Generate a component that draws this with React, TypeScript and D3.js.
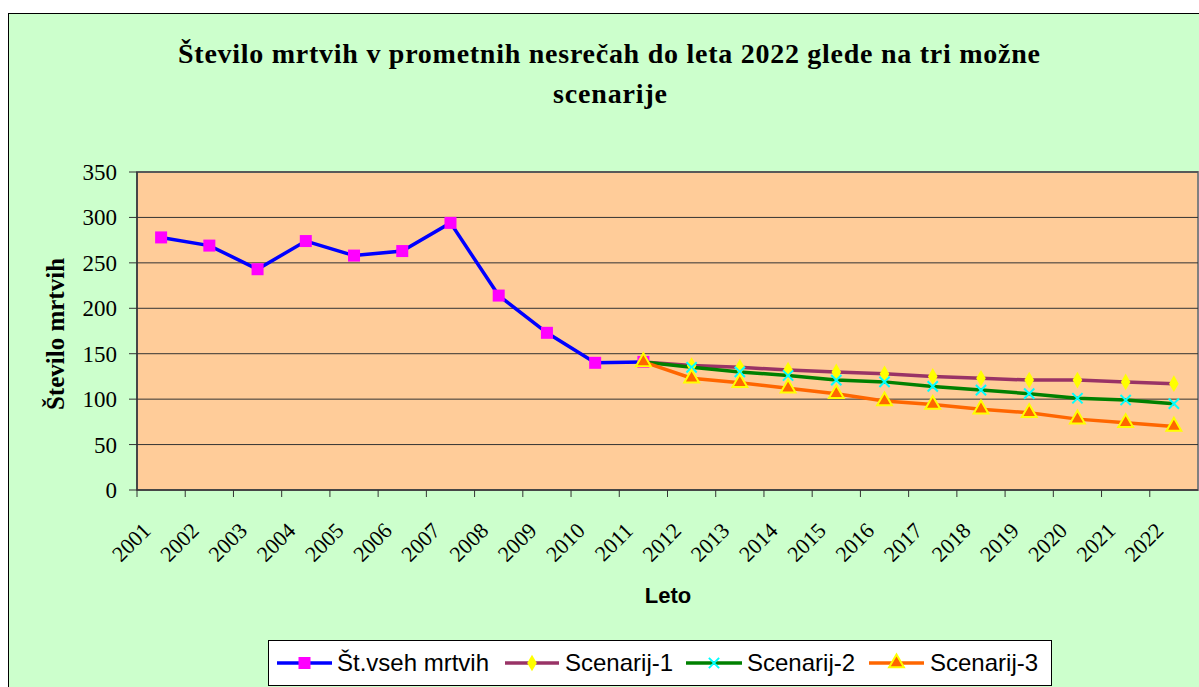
import React from "react";
import * as d3 from "d3";

// years on the category axis
const years = [
  "2001", "2002", "2003", "2004", "2005", "2006", "2007", "2008", "2009", "2010", "2011",
  "2012", "2013", "2014", "2015", "2016", "2017", "2018", "2019", "2020", "2021", "2022",
];

// recorded deaths 2001-2011
const totalYears = years.slice(0, 11);
const totalValues = [278, 269, 243, 274, 258, 263, 294, 214, 173, 140, 141];

// three projections 2011-2022
const scenarioYears = years.slice(10);
const scenario1 = [141, 137, 135, 132, 130, 128, 125, 123, 121, 121, 119, 117];
const scenario2 = [141, 135, 130, 126, 121, 119, 114, 110, 106, 101, 99, 95];
const scenario3 = [141, 123, 118, 112, 106, 98, 94, 89, 85, 78, 74, 70];

const yTicks = [0, 50, 100, 150, 200, 250, 300, 350];

const W = 1199;
const H = 687;
const plot = { left: 137, right: 1198, top: 172, bottom: 490 };

const serif = "'Liberation Serif', 'Times New Roman', serif";
const sans = "'Liberation Sans', Arial, sans-serif";

const symX = (d3 as any).symbolX || d3.symbolCross;

export default function App() {
  const x = d3.scaleBand().domain(years).range([plot.left, plot.right]).padding(0);
  const cx = (yr: string) => (x(yr) as number) + x.bandwidth() / 2;
  const y = d3.scaleLinear().domain([0, 350]).range([plot.bottom, plot.top]);

  const line = d3
    .line<[string, number]>()
    .x((d) => cx(d[0]))
    .y((d) => y(d[1]));

  const totalPts = totalYears.map((yr, i) => [yr, totalValues[i]] as [string, number]);
  const s1 = scenarioYears.map((yr, i) => [yr, scenario1[i]] as [string, number]);
  const s2 = scenarioYears.map((yr, i) => [yr, scenario2[i]] as [string, number]);
  const s3 = scenarioYears.map((yr, i) => [yr, scenario3[i]] as [string, number]);

  const diamond = d3.symbol(d3.symbolDiamond, 80)()!;
  const cross = d3.symbol(symX, 70)()!;
  const triangle = d3.symbol(d3.symbolTriangle, 95)()!;

  const square = (px: number, py: number, key?: string) => (
    <rect key={key} x={px - 6} y={py - 6} width={12} height={12} fill="#FF00FF" />
  );
  const dia = (px: number, py: number, key?: string) => (
    <path key={key} d={diamond} transform={`translate(${px},${py})`} fill="#FFFF00" />
  );
  const xm = (px: number, py: number, key?: string) => (
    <path key={key} d={cross} transform={`translate(${px},${py})`} fill="none" stroke="#00FFFF" strokeWidth={2} />
  );
  const tri = (px: number, py: number, key?: string) => (
    <path key={key} d={triangle} transform={`translate(${px},${py})`} fill="#FF6600" stroke="#FFFF00" strokeWidth={2} />
  );

  const legendItems = [
    { label: "Št.vseh mrtvih", color: "#0000FF", x0: 277, x1: 332, tx: 337, mark: square },
    { label: "Scenarij-1", color: "#993366", x0: 505, x1: 559, tx: 565, mark: dia },
    { label: "Scenarij-2", color: "#008000", x0: 686, x1: 742, tx: 747, mark: xm },
    { label: "Scenarij-3", color: "#FF6600", x0: 869, x1: 924, tx: 930, mark: tri },
  ];

  return (
    <svg
      width={W}
      height={H}
      style={{ position: "absolute", left: 0, top: 0, display: "block" }}
    >
      <rect x={0} y={0} width={W} height={H} fill="#ffffff" />
      <rect x={8.5} y={13.5} width={W + 10} height={H + 10} fill="#CCFFCC" stroke="#000" strokeWidth={1} />

      {/* title */}
      <text x={609} y={63} textAnchor="middle" fontFamily={serif} fontWeight="bold" fontSize={28}
        textLength={862} lengthAdjust="spacing">
        Število mrtvih v prometnih nesrečah do leta 2022 glede na tri možne
      </text>
      <text x={610} y={103} textAnchor="middle" fontFamily={serif} fontWeight="bold" fontSize={28}
        textLength={114} lengthAdjust="spacing">
        scenarije
      </text>

      {/* plot area */}
      <rect x={plot.left} y={plot.top} width={plot.right - plot.left} height={plot.bottom - plot.top}
        fill="#FFCC99" stroke="#808080" strokeWidth={2} />
      {yTicks.filter((t) => t > 0).map((t) => (
        <line key={t} x1={plot.left} x2={plot.right} y1={y(t)} y2={y(t)} stroke="#333" strokeWidth={1} />
      ))}
      <line x1={plot.left} x2={plot.left} y1={plot.top} y2={plot.bottom} stroke="#333" strokeWidth={1.5} />
      <line x1={plot.left} x2={plot.right} y1={plot.bottom} y2={plot.bottom} stroke="#333" strokeWidth={1.5} />

      {/* y axis */}
      {yTicks.map((t) => (
        <g key={t}>
          <line x1={plot.left - 8} x2={plot.left} y1={y(t)} y2={y(t)} stroke="#333" />
          <text x={117} y={y(t)} dy="0.35em" textAnchor="end" fontFamily={serif} fontSize={23}>
            {t}
          </text>
        </g>
      ))}
      <text transform={`translate(64,${(plot.top + plot.bottom) / 2 + 3}) rotate(-90)`} textAnchor="middle"
        fontFamily={serif} fontWeight="bold" fontSize={25}>
        Število mrtvih
      </text>

      {/* x axis */}
      {years.map((yr) => (
        <line key={"t" + yr} x1={x(yr)!} x2={x(yr)!} y1={plot.bottom} y2={plot.bottom + 7} stroke="#333" />
      ))}
      {years.map((yr) => (
        <text key={"l" + yr} transform={`translate(${cx(yr) - 9},532) rotate(-45)`} textAnchor="end"
          fontFamily={serif} fontSize={22}>
          {yr}
        </text>
      ))}
      <text x={668} y={603} textAnchor="middle" fontFamily={sans} fontWeight="bold" fontSize={22}>
        Leto
      </text>

      {/* series */}
      <path d={line(s1)!} fill="none" stroke="#993366" strokeWidth={3.5} />
      <path d={line(s2)!} fill="none" stroke="#008000" strokeWidth={3.5} />
      <path d={line(s3)!} fill="none" stroke="#FF6600" strokeWidth={3.5} />
      <path d={line(totalPts)!} fill="none" stroke="#0000FF" strokeWidth={3.5} />
      {totalPts.map((d) => square(cx(d[0]), y(d[1]), "a" + d[0]))}
      {s1.slice(1).map((d) => dia(cx(d[0]), y(d[1]), "b" + d[0]))}
      {s2.slice(1).map((d) => xm(cx(d[0]), y(d[1]), "c" + d[0]))}
      {s3.map((d) => tri(cx(d[0]), y(d[1]), "d" + d[0]))}

      {/* legend */}
      <rect x={268.5} y={640.5} width={783} height={45} fill="#fff" stroke="#000" strokeWidth={1} />
      {legendItems.map((it) => (
        <g key={it.label}>
          <line x1={it.x0} x2={it.x1} y1={663} y2={663} stroke={it.color} strokeWidth={3.5} />
          {it.mark((it.x0 + it.x1) / 2, 663)}
          <text x={it.tx} y={671} fontFamily={sans} fontSize={24}>
            {it.label}
          </text>
        </g>
      ))}
    </svg>
  );
}
